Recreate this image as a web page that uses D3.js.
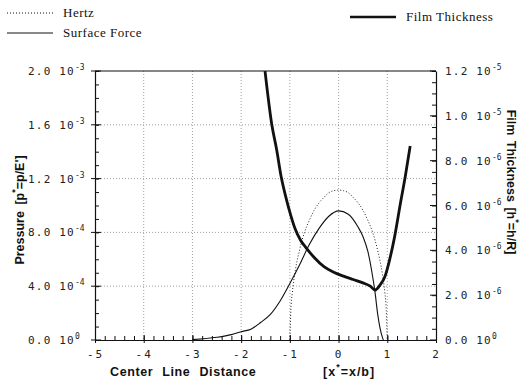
<!DOCTYPE html>
<html>
<head>
<meta charset="utf-8">
<script src="https://cdn.jsdelivr.net/npm/d3@7"></script>
<style>
  body { margin: 0; background: #fff; }
  svg { display: block; }
  .tick-num { font-family: "DejaVu Sans Mono", monospace; font-size: 11px; fill: #222; }
  .title { font-family: "Liberation Sans", Arial, sans-serif; font-weight: bold; font-size: 12.5px; fill: #111; }
  .legend { font-family: "Liberation Serif", "Times New Roman", serif; font-size: 13px; fill: #111; }
</style>
</head>
<body>
<div id="chart"></div>
<script>
// x ticks (centre line distance)
var xTicks = [-5, -4, -3, -2, -1, 0, 1, 2];
var xTickLabels = ["-5", "-4", "-3", "-2", "-1", "0", "1", "2"];

// left axis: pressure
var pTicks = [0, 0.4e-3, 0.8e-3, 1.2e-3, 1.6e-3, 2.0e-3];
var pTickMant = ["0.0", "4.0", "8.0", "1.2", "1.6", "2.0"];
var pTickExp = ["0", "-4", "-4", "-3", "-3", "-3"];

// right axis: film thickness
var hTicks = [0, 2e-6, 4e-6, 6e-6, 8e-6, 1.0e-5, 1.2e-5];
var hTickMant = ["0.0", "2.0", "4.0", "6.0", "8.0", "1.0", "1.2"];
var hTickExp = ["0", "-6", "-6", "-6", "-6", "-5", "-5"];

// Hertz pressure (x1e-3)
var hertzX = [-1, -0.98, -0.95, -0.9, -0.8, -0.7, -0.6, -0.5, -0.4, -0.3, -0.2, -0.1, 0,
              0.1, 0.2, 0.3, 0.4, 0.5, 0.6, 0.7, 0.8, 0.9, 0.95, 0.98, 1];
var hertzP = [0, 0.22, 0.35, 0.49, 0.67, 0.80, 0.89, 0.965, 1.02, 1.06, 1.095, 1.11, 1.115,
              1.11, 1.095, 1.06, 1.02, 0.965, 0.89, 0.80, 0.67, 0.49, 0.35, 0.22, 0];

// surface force pressure (x1e-3)
var sfX = [-3, -2.5, -2.2, -2, -1.8, -1.6, -1.4, -1.2, -1, -0.8, -0.6, -0.4, -0.2, 0,
           0.2, 0.4, 0.5, 0.6, 0.7, 0.75, 0.8, 0.85, 0.9, 0.92];
var sfP = [0.003, 0.02, 0.04, 0.062, 0.08, 0.13, 0.19, 0.29, 0.42, 0.56, 0.71, 0.83, 0.92, 0.96,
           0.935, 0.84, 0.77, 0.66, 0.47, 0.35, 0.2, 0.09, 0.02, 0];

// film thickness (x1e-6)
var filmX = [-1.51, -1.37, -1.27, -1.18, -1.08, -0.98, -0.89, -0.78, -0.67, -0.5, -0.3, -0.1, 0.1,
             0.3, 0.5, 0.65, 0.75, 0.85, 0.95, 1.05, 1.15, 1.27, 1.37, 1.47];
var filmH = [12.0, 9.6, 8.48, 7.3, 6.35, 5.55, 4.95, 4.45, 4.12, 3.68, 3.27, 3.02, 2.85,
             2.7, 2.55, 2.4, 2.23, 2.45, 2.82, 3.6, 4.6, 6.1, 7.3, 8.65];

var width = 523, height = 384;
var plot = {left: 95, right: 436, top: 71, bottom: 340};

var svg = d3.select("#chart").append("svg")
    .attr("width", width).attr("height", height)
    .attr("style", "background-color: #fff");

var x = d3.scaleLinear().domain([-5, 2]).range([plot.left, plot.right]);
var yP = d3.scaleLinear().domain([0, 2e-3]).range([plot.bottom, plot.top]);
var yH = d3.scaleLinear().domain([0, 1.2e-5]).range([plot.bottom, plot.top]);

// grid
var grid = svg.append("g").attr("stroke", "#888").attr("stroke-width", 0.8)
    .attr("stroke-dasharray", "1,2");
grid.selectAll("line.gx").data(xTicks.slice(1, -1)).enter().append("line")
    .attr("x1", d => x(d)).attr("x2", d => x(d))
    .attr("y1", plot.top).attr("y2", plot.bottom);
grid.selectAll("line.gy").data(pTicks.slice(1, -1)).enter().append("line")
    .attr("y1", d => yP(d)).attr("y2", d => yP(d))
    .attr("x1", plot.left).attr("x2", plot.right);

// axes
var axisBottom = d3.axisBottom(x).tickValues(d3.range(-5, 2.001, 0.2)).tickSize(0).tickFormat("");
svg.append("g").attr("transform", "translate(0," + plot.bottom + ")").call(axisBottom)
    .call(g => g.selectAll(".tick line").attr("y2", -4).attr("stroke", "#111"))
    .call(g => g.select(".domain").attr("stroke", "#111").attr("stroke-width", 1.2));

svg.append("g").attr("transform", "translate(0," + plot.bottom + ")")
    .call(d3.axisBottom(x).tickValues(xTicks).tickSize(0).tickPadding(10)
          .tickFormat((d, i) => xTickLabels[i]))
    .call(g => g.select(".domain").remove())
    .call(g => g.selectAll(".tick line").attr("y1", -5).attr("y2", 3).attr("stroke", "#111"))
    .call(g => g.selectAll("text").attr("class", "tick-num").attr("font-size", null)
          .attr("font-family", null).attr("letter-spacing", 2));

var axisLeft = d3.axisLeft(yP).tickValues(d3.range(0, 2.0001e-3, 0.1e-3)).tickSize(0).tickFormat("");
svg.append("g").attr("transform", "translate(" + plot.left + ",0)").call(axisLeft)
    .call(g => g.selectAll(".tick line").attr("x2", 4).attr("stroke", "#111"))
    .call(g => g.select(".domain").attr("stroke", "#111").attr("stroke-width", 1.2));

var axisRight = d3.axisRight(yH).tickValues(d3.range(0, 1.20001e-5, 0.5e-6)).tickSize(0).tickFormat("");
svg.append("g").attr("transform", "translate(" + plot.right + ",0)").call(axisRight)
    .call(g => g.selectAll(".tick line").attr("x2", -4).attr("stroke", "#111"))
    .call(g => g.select(".domain").attr("stroke", "#111").attr("stroke-width", 1.2));

// top frame line
svg.append("line").attr("x1", plot.left).attr("x2", plot.right)
    .attr("y1", plot.top).attr("y2", plot.top).attr("stroke", "#111").attr("stroke-width", 1.2);

// major left ticks cross the axis
svg.append("g").selectAll("line").data(pTicks).enter().append("line")
    .attr("x1", plot.left - 4).attr("x2", plot.left + 6)
    .attr("y1", d => yP(d)).attr("y2", d => yP(d)).attr("stroke", "#111");
svg.append("g").selectAll("line").data(hTicks).enter().append("line")
    .attr("x1", plot.right - 6).attr("x2", plot.right)
    .attr("y1", d => yH(d)).attr("y2", d => yH(d)).attr("stroke", "#111");

// tick labels with powers of ten
function sciLabel(g, mant, exp, xPos, anchor) {
    var t = g.append("text").attr("class", "tick-num").attr("x", xPos).attr("text-anchor", anchor)
        .attr("letter-spacing", 1.2);
    t.append("tspan").text(mant + " 10");
    t.append("tspan").attr("dy", -5).attr("font-size", 8).attr("letter-spacing", 0).text(exp);
    return t;
}
pTicks.forEach(function(v, i) {
    var g = svg.append("g").attr("transform", "translate(0," + (yP(v) + 4) + ")");
    sciLabel(g, pTickMant[i], pTickExp[i], 28, "start");
});
hTicks.forEach(function(v, i) {
    var g = svg.append("g").attr("transform", "translate(0," + (yH(v) + 4) + ")");
    sciLabel(g, hTickMant[i], hTickExp[i], 445, "start");
});

// curves
var clip = svg.append("clipPath").attr("id", "clip").append("rect")
    .attr("x", plot.left).attr("y", plot.top)
    .attr("width", plot.right - plot.left).attr("height", plot.bottom - plot.top);
var curves = svg.append("g").attr("clip-path", "url(#clip)").attr("fill", "none");

var lineP = d3.line().x(d => x(d[0])).y(d => yP(d[1] * 1e-3)).curve(d3.curveMonotoneX);
var lineH = d3.line().x(d => x(d[0])).y(d => yH(d[1] * 1e-6)).curve(d3.curveMonotoneX);

curves.append("path").datum(d3.zip(hertzX, hertzP)).attr("d", lineP)
    .attr("stroke", "#222").attr("stroke-width", 1).attr("stroke-dasharray", "1,2");
curves.append("path").datum(d3.zip(sfX, sfP)).attr("d", lineP)
    .attr("stroke", "#111").attr("stroke-width", 1.1);
curves.append("path").datum(d3.zip(filmX, filmH)).attr("d", lineH)
    .attr("stroke", "#111").attr("stroke-width", 2.8).attr("stroke-linejoin", "round");

// axis titles
var xt = svg.append("text").attr("class", "title").attr("y", 376).attr("word-spacing", 5)
    .attr("font-size", 13).attr("letter-spacing", 0.6);
xt.append("tspan").attr("x", 110).text("Center Line Distance");
var xt2 = svg.append("text").attr("class", "title").attr("y", 376).attr("x", 323)
    .attr("letter-spacing", 1);
xt2.append("tspan").text("[x");
xt2.append("tspan").attr("dy", -6).attr("font-size", 9).text("*");
xt2.append("tspan").attr("dy", 6).text("=x/b]");

var lt = svg.append("text").attr("class", "title")
    .attr("transform", "translate(24,210) rotate(-90)").attr("text-anchor", "middle")
    .attr("word-spacing", 3);
lt.append("tspan").text("Pressure  [p");
lt.append("tspan").attr("dy", -6).attr("font-size", 9).text("*");
lt.append("tspan").attr("dy", 6).text("=p/E']");

var rt = svg.append("text").attr("class", "title")
    .attr("transform", "translate(507,182) rotate(90)").attr("text-anchor", "middle")
    .attr("font-size", 12).attr("word-spacing", 2);
rt.append("tspan").text("Film Thickness  [h");
rt.append("tspan").attr("dy", -6).attr("font-size", 9).text("*");
rt.append("tspan").attr("dy", 6).text("=h/R]");

// legend
var legendItems = [
    {label: "Hertz", x: 7, y: 13, dash: "1,2", w: 1},
    {label: "Surface Force", x: 7, y: 33, dash: null, w: 1},
    {label: "Film Thickness", x: 350, y: 17, dash: null, w: 2.6}
];
var lg = svg.append("g");
legendItems.forEach(function(it) {
    lg.append("line").attr("x1", it.x).attr("x2", it.x + 46).attr("y1", it.y).attr("y2", it.y)
        .attr("stroke", "#111").attr("stroke-width", it.w).attr("stroke-dasharray", it.dash);
    lg.append("text").attr("class", "legend").attr("x", it.x + 56).attr("y", it.y + 4)
        .attr("letter-spacing", 0.5).text(it.label);
});
</script>
</body>
</html>
